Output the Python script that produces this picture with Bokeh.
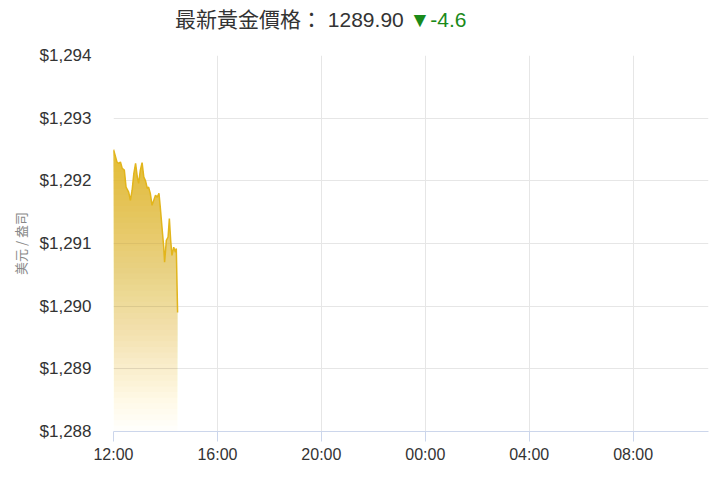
import numpy as np
from bokeh.plotting import figure
from bokeh.models import Div, NumeralTickFormatter, FixedTicker, Range1d
from bokeh.layouts import column
from bokeh.embed import file_html
from bokeh.resources import INLINE

# minutes after 12:00 and gold price (USD / oz)
minutes = [0, 8, 12, 16, 20, 25, 29, 35, 39, 43, 47, 51, 55, 58, 62, 66, 70, 74,
           78, 81, 85, 89, 93, 97, 101, 105, 108, 112, 116, 118, 122, 126, 129,
           132, 135, 139, 143, 145, 148]
prices = [1292.50, 1292.30, 1292.28, 1292.30, 1292.20, 1292.17, 1291.90, 1291.82,
          1291.69, 1291.85, 1292.12, 1292.28, 1292.06, 1291.96, 1292.17, 1292.29,
          1292.06, 1292.00, 1291.88, 1291.90, 1291.80, 1291.61, 1291.69, 1291.77,
          1291.74, 1291.80, 1291.58, 1291.26, 1290.94, 1290.70, 1291.05, 1291.10,
          1291.40, 1291.05, 1290.81, 1290.94, 1290.86, 1290.92, 1289.90]

tick_hours = [0, 4, 8, 12, 16, 20]
tick_labels = ["12:00", "16:00", "20:00", "00:00", "04:00", "08:00"]
y_ticks = [1288, 1289, 1290, 1291, 1292, 1293, 1294]
latest_price = "1289.90"
change = "-4.6"

hours = np.array(minutes) / 60.0
pr = np.array(prices)
y_min, y_max = 1288, 1294

LATIN = "'Liberation Sans', 'Noto Sans CJK TC'"

title = Div(
    text=("最新黃金價格：&nbsp;" + latest_price +
          " <span style='color:#1a8a1a'>▼" + change + "</span>"),
    width=712, height=44,
    styles={"font-size": "21px", "color": "#333333", "font-family": LATIN,
            "padding-left": "175px", "padding-top": "8px",
            "line-height": "24px", "margin": "0px", "box-sizing": "border-box"},
)

p = figure(width=712, height=428, output_backend="svg", toolbar_location=None,
           x_range=Range1d(0, 22.9), y_range=Range1d(y_min, y_max),
           min_border_left=113, min_border_right=4, min_border_top=11,
           min_border_bottom=41)
p.outline_line_color = None
p.background_fill_color = "white"
p.border_fill_color = "white"

# gradient area: overlapping layers with cumulative alpha growing to the top
base_color = "#e6bd36"
N = 50
top = pr.max()
levels = np.linspace(y_min, top, N + 1)[:-1]
prev_A = 0.0
for k, lo in enumerate(levels):
    A = (k + 1) / N
    a = 1 - (1 - A) / (1 - prev_A) if prev_A < 1 else 0
    prev_A = A
    a = min(max(a, 0), 1)
    p.varea(x=hours, y1=np.minimum(lo, pr), y2=pr, fill_color=base_color,
            fill_alpha=a * 0.95)

p.line(hours, pr, line_color="#e2b51c", line_width=1.5)

# x axis
p.xaxis.ticker = FixedTicker(ticks=tick_hours)
p.xaxis.major_label_overrides = {h: l for h, l in zip(tick_hours, tick_labels)}
p.xaxis.axis_line_color = "#ccd6eb"
p.xaxis.major_tick_line_color = "#ccd6eb"
p.xaxis.major_tick_out = 10
p.xaxis.major_tick_in = 0
p.xaxis.minor_tick_line_color = None
p.xaxis.major_label_text_font = LATIN
p.xaxis.major_label_text_font_size = "16px"
p.xaxis.major_label_text_color = "#333333"
p.xaxis.major_label_standoff = 4

# y axis
p.yaxis.ticker = FixedTicker(ticks=y_ticks)
p.yaxis.formatter = NumeralTickFormatter(format="$0,0")
p.yaxis.axis_line_color = None
p.yaxis.major_tick_line_color = None
p.yaxis.minor_tick_line_color = None
p.yaxis.major_label_text_font = LATIN
p.yaxis.major_label_text_font_size = "17px"
p.yaxis.major_label_text_color = "#333333"
p.yaxis.major_label_standoff = 16
p.yaxis.axis_label = "美元 / 盎司"
p.yaxis.axis_label_text_font = "Noto Sans CJK TC"
p.yaxis.axis_label_text_font_style = "normal"
p.yaxis.axis_label_text_font_size = "13px"
p.yaxis.axis_label_text_color = "#888888"
p.yaxis.axis_label_standoff = 7

p.xgrid.ticker = FixedTicker(ticks=tick_hours)
p.ygrid.ticker = FixedTicker(ticks=y_ticks)
p.xgrid.grid_line_color = "#e6e6e6"
p.ygrid.grid_line_color = "#e6e6e6"

layout = column(title, p, spacing=0)
open("out.html", "w").write(file_html(layout, INLINE))
